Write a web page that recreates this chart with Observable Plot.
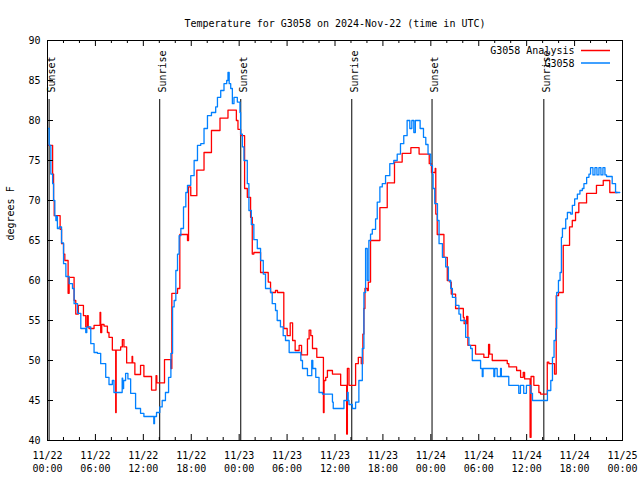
<!DOCTYPE html>
<html>
<head>
<meta charset="utf-8">
<script src="https://cdn.jsdelivr.net/npm/d3@7"></script>
<script src="https://cdn.jsdelivr.net/npm/@observablehq/plot@0.6"></script>
<style>
  html, body { margin: 0; padding: 0; background: #fff; }
  svg { display: block; }
</style>
</head>
<body>
<div id="chart"></div>
<script>
// ---------------- data ----------------
const title = "Temperature for G3058 on 2024-Nov-22 (time in UTC)";
const yLabel = "degrees F";
const startISO = "2024-11-22T00:00:00Z";
const obsName = "G3058";
const anaName = "G3058 Analysis";

// observations (hours since 11/22 00:00 UTC, deg F)
const obsHours = [0.09,0.21,0.42,0.64,0.76,0.92,1.05,1.17,1.24,1.46,1.76,2.01,2.3,2.71,3.13,3.33,3.76,4.17,4.79,4.92,5.42,5.83,6.25,6.66,7.29,7.7,8.12,8.32,9.35,9.41,9.53,9.78,10.07,10.41,11.03,11.65,12.07,13.31,13.4,13.65,14.06,14.36,14.77,15.16,15.45,15.66,15.86,16.07,16.28,16.48,16.7,17.03,17.32,17.53,17.94,18.36,18.78,19.19,19.6,20.03,20.53,21.06,21.28,21.69,22.1,22.44,22.6,22.75,22.94,23.15,23.35,23.77,24.1,24.18,24.4,24.6,25.02,25.22,25.52,25.84,26.27,26.68,27.02,27.3,27.93,28.14,28.55,28.76,29.17,29.51,29.8,30.26,31.72,31.93,32.55,33.09,33.22,33.59,34.0,34.43,35.68,35.78,37.12,37.55,37.65,37.75,38.17,38.58,38.99,39.42,39.62,39.83,40.04,40.24,40.45,40.67,41.08,41.29,41.62,41.92,42.33,42.86,43.36,43.79,44.2,44.61,45.03,45.37,45.62,45.87,46.06,46.66,47.08,47.37,47.65,47.99,48.2,48.28,48.49,48.83,49.03,49.45,49.86,50.2,50.49,50.7,51.11,51.52,51.73,52.36,52.77,52.98,53.19,54.23,54.44,54.54,55.89,56.01,56.31,56.73,56.83,57.76,59.01,59.22,59.63,59.97,60.52,60.73,62.6,63.02,63.23,63.43,63.64,63.76,63.98,64.18,64.35,64.48,64.89,65.1,65.51,65.72,66.01,66.35,66.67,66.97,67.17,67.51,67.8,68.0,68.3,68.55,68.8,69.05,69.3,69.55,69.8,70.0,70.71,71.13,71.66];
const obsTemps = [79,76.9,73.3,72.1,70,68.1,67.5,68,66.5,66.7,64.7,62.1,60.5,59.6,59,57.1,55.9,54,53.5,54.2,52.1,51,50.9,49.6,47.9,47,47.5,46,47.8,46.5,47.5,48.4,47.7,45.9,44,43.4,43,42.1,43,43.5,44.2,45,46,47.9,50.9,56.7,57.5,61.25,63.3,65.6,66.5,69.2,71,71.9,73.1,75,76.9,77.1,79,80.6,81,81.7,82.9,83.75,84.6,85,86,84.6,84,82.1,82.9,82.3,81,78.3,76.7,75,72.1,68.75,67,65.1,64,62.5,60.8,59,58.5,57.1,56.25,55,54.2,53.1,52.5,51,50,49,48.1,50,49,47.9,46,45.8,44.8,44,45,46,45,44.5,44,44.8,47.5,51.5,58.5,64,60,65,65.8,66.4,67.7,69.8,71.7,72.1,73.1,74.6,75,75.8,77.1,78.1,80,79,80,78.5,80,79,77.9,77,75.8,74.4,73.3,71.5,69.6,67.5,64.6,62.9,61.7,60,59,57.9,56.9,55.8,55,52.9,51.9,51.5,50,49,48,49,48,49,48,49,48,46.9,45.9,46.9,45.9,46.9,45.9,45,46.25,47.5,50.4,52.5,54,58.5,60,61,65.4,66.5,67.7,68.5,68.3,69.4,70.2,70.8,71.25,71.5,72.1,72.9,73.3,74.1,73.2,74.1,73.2,74.1,73.2,74.1,73.2,73.0,72.1,71,71];

// analysis (hours since 11/22 00:00 UTC, deg F)
const anaHours = [0.09,0.64,0.76,0.84,1.58,1.76,2.01,2.17,2.58,2.71,3.33,3.54,3.86,4.5,4.79,4.98,5.1,5.2,5.83,6.58,6.66,6.79,7.08,7.5,7.7,8.12,8.54,8.6,9.16,9.37,9.57,9.91,10.59,10.66,10.94,11.65,12.07,13.03,13.59,13.69,14.65,15.45,15.57,16.28,16.57,17.53,17.66,17.94,18.7,19.6,20.53,21.6,22.6,23.65,23.85,24.18,24.68,25.02,25.43,25.64,25.84,26.68,27.64,27.93,28.55,28.8,29.59,30.01,30.39,30.69,31.01,31.51,31.81,32.55,32.76,32.97,33.18,33.72,34.55,34.63,34.84,35.05,35.68,36.71,37.46,37.55,37.75,38.58,38.92,39.29,39.49,39.62,39.75,40.04,40.17,40.45,41.62,42.54,43.45,44.41,45.5,46.53,47.8,48.08,48.55,48.62,48.8,49.64,50.06,50.39,50.56,51.1,52.07,52.17,52.48,52.64,53.6,54.64,55.23,55.36,55.69,57.57,57.77,58.74,59.24,59.57,59.74,60.43,60.55,60.9,61.53,61.74,62.58,62.78,63.49,63.7,63.99,64.58,65.37,65.71,66.12,66.53,67.5,68.74,69.59,70.41,71.34];
const anaTemps = [76.9,73.3,70,68.1,66.4,64.6,63.3,62.5,58.4,60.4,57.5,55.8,56.9,55.6,54.2,55.6,54.2,54,54.4,56,53.5,54.5,54.3,53.5,52.9,51.3,43.5,51.3,51.7,52.6,51.7,49.7,50.5,49.7,48.25,49.4,48,46.3,48.1,47.2,50.1,49,58.4,59,65.75,65,71.7,70.6,73.8,76,78.75,80.3,81.3,80,78.9,78.1,71.5,70.4,67.9,63.3,63.5,61,59.8,58.5,58.75,58.5,54,53.1,54.7,52.5,51.25,51.9,50.7,52.7,53.8,53.1,51.5,50.4,43.5,47.5,47.9,48.75,48.3,46.9,40.8,49,46.9,49.6,50.4,49.6,53.3,56.5,59,58.75,59.8,65,69.1,72.2,74.8,75.9,76.6,75.8,74.6,73.5,74,68.3,65.75,62.9,60,59.8,58.3,56.5,55.4,54.6,55.5,51.9,50.8,50.4,52,50.8,50,49.6,49.2,48.75,47.9,48.5,47.7,40.4,48,46.9,46,45.8,49.8,49.6,48.3,58.1,58.5,64.4,66.7,67.5,68.5,69.7,70.9,71.9,72.5,71.0,71.0];

// sunrise / sunset markers
const eventHours = [0.2, 14.05, 24.2, 38.1, 48.15, 62.15];
const eventLabels = ["Sunset", "Sunrise", "Sunset", "Sunrise", "Sunset", "Sunrise"];

// axis ticks
const xTickHours = [0, 6, 12, 18, 24, 30, 36, 42, 48, 54, 60, 66, 72];
const xTickLabels = ["11/22\n00:00","11/22\n06:00","11/22\n12:00","11/22\n18:00","11/23\n00:00","11/23\n06:00","11/23\n12:00","11/23\n18:00","11/24\n00:00","11/24\n06:00","11/24\n12:00","11/24\n18:00","11/25\n00:00"];
const xMinorHours = [2, 4, 8, 10, 14, 16, 20, 22, 26, 28, 32, 34, 38, 40, 44, 46, 50, 52, 56, 58, 62, 64, 68, 70];
const yTicks = [40, 45, 50, 55, 60, 65, 70, 75, 80, 85, 90];

// ---------------- build ----------------
const anaColor = "#ff0000";
const obsColor = "#0080ff";
const t0 = new Date(startISO).getTime();
const toDate = h => new Date(t0 + h * 3600e3);

const obs = obsHours.map((h, i) => ({t: toDate(h), v: obsTemps[i]}));
const ana = anaHours.map((h, i) => ({t: toDate(h), v: anaTemps[i]}));
const events = eventHours.map((h, i) => ({t: toDate(h), label: eventLabels[i]}));
const xTicks = xTickHours.map((h, i) => ({t: toDate(h), label: xTickLabels[i]}));
const xMinor = xMinorHours.map(toDate);

const W = 640, H = 480, mL = 47, mR = 18, mT = 40, mB = 40;
const fw = W - mL - mR, fh = H - mT - mB;
const majorLen = 6, minorLen = 3;

function legend(index, scales, values, dims) {
  const g = d3.create("svg:g")
    .attr("font-family", "DejaVu Sans Mono, monospace")
    .attr("font-size", 10);
  const right = dims.width - dims.marginRight;
  [[anaName, anaColor], [obsName, obsColor]].forEach(([name, color], i) => {
    const y = dims.marginTop + 10.5 + i * 12.5;
    g.append("text")
      .attr("x", right - 47.5).attr("y", y).attr("dy", "0.35em")
      .attr("text-anchor", "end").attr("fill", "black").text(name);
    g.append("line")
      .attr("x1", right - 41).attr("x2", right - 12)
      .attr("y1", y).attr("y2", y)
      .attr("stroke", color).attr("stroke-width", 1.5);
  });
  return g.node();
}

const chart = Plot.plot({
  width: W, height: H,
  marginLeft: mL, marginRight: mR, marginTop: mT, marginBottom: mB,
  style: {fontFamily: "DejaVu Sans Mono, monospace", fontSize: "10px", background: "white", color: "black"},
  x: {type: "utc", domain: [toDate(0), toDate(72)], axis: null},
  y: {domain: [40, 90], axis: null},
  marks: [
    // sunrise/sunset lines and labels
    Plot.ruleX(events, {x: "t", insetTop: 59, stroke: "black", strokeWidth: 1}),
    Plot.text(events, {x: "t", text: "label", frameAnchor: "top", dy: 52, dx: -1, rotate: -90, textAnchor: "start", fill: "black", fontSize: 10}),
    // series
    Plot.line(ana, {x: "t", y: "v", curve: "step-after", stroke: anaColor, strokeWidth: 1.3}),
    Plot.line(obs, {x: "t", y: "v", curve: "step-after", stroke: obsColor, strokeWidth: 1.3}),
    // frame
    Plot.frame({stroke: "black", strokeWidth: 1}),
    // x ticks (inward, bottom and top)
    Plot.tickX(xTicks, {x: "t", insetTop: fh - majorLen, stroke: "black"}),
    Plot.tickX(xTicks, {x: "t", insetBottom: fh - majorLen, stroke: "black"}),
    Plot.tickX(xMinor, {x: d => d, insetTop: fh - minorLen, stroke: "black"}),
    Plot.tickX(xMinor, {x: d => d, insetBottom: fh - minorLen, stroke: "black"}),
    // y ticks (inward, left and right)
    Plot.tickY(yTicks, {y: d => d, insetRight: fw - majorLen, stroke: "black"}),
    Plot.tickY(yTicks, {y: d => d, insetLeft: fw - majorLen, stroke: "black"}),
    // tick labels
    Plot.text(yTicks, {y: d => d, text: d => String(d), frameAnchor: "left", dx: -7, textAnchor: "end", fill: "black", fontSize: 10}),
    Plot.text(xTicks, {x: "t", text: "label", frameAnchor: "bottom", lineAnchor: "top", dy: 10, lineHeight: 1.25, fill: "black", fontSize: 10}),
    // titles
    Plot.text([title], {frameAnchor: "top", dy: -21, fill: "black", fontSize: 10}),
    Plot.text([yLabel], {frameAnchor: "left", dx: -37, rotate: -90, fill: "black", fontSize: 10}),
    legend
  ]
});
document.getElementById("chart").appendChild(chart);
</script>
</body>
</html>
